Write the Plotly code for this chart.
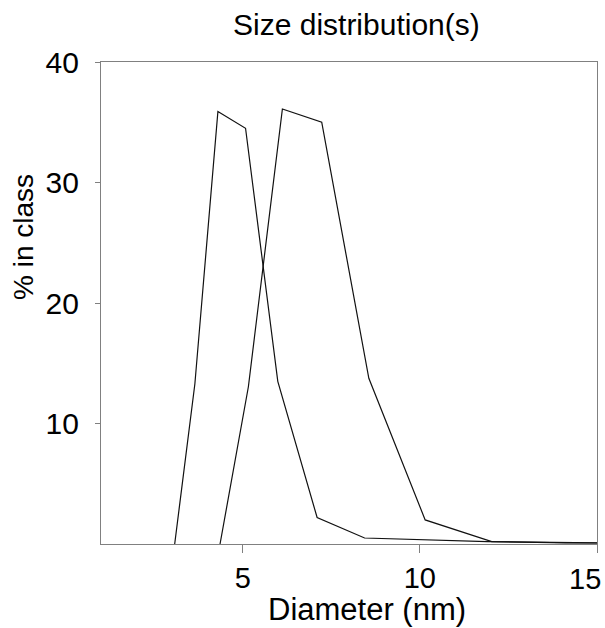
import plotly.graph_objects as go

# Series 1 (left distribution)
diam_1 = [3.08, 3.65, 4.30, 5.08, 5.99, 7.10, 8.44, 10.0, 11.9, 14.1, 16.7]
pct_1 = [0.0, 13.3, 35.9, 34.5, 13.5, 2.2, 0.5, 0.35, 0.2, 0.1, 0.05]

# Series 2 (right distribution)
diam_2 = [4.36, 5.16, 6.12, 7.23, 8.56, 10.15, 12.03, 14.26, 16.9]
pct_2 = [0.0, 13.05, 36.1, 35.0, 13.75, 2.0, 0.2, 0.08, 0.03]

x_ticks = [5, 10, 15]
x_ticktext = ["5", "10", "15"]
y_ticks = [10, 20, 30, 40]

FONT = "Arial, 'Liberation Sans', sans-serif"

fig = go.Figure()
for xs, ys in [(diam_1, pct_1), (diam_2, pct_2)]:
    fig.add_trace(go.Scatter(x=xs, y=ys, mode="lines",
                             line=dict(color="#111111", width=1.2),
                             showlegend=False, hoverinfo="skip"))

axis_common = dict(showgrid=False, zeroline=False, showline=True, mirror=True,
                   linecolor="#808080", linewidth=1.2, ticks="outside",
                   tickcolor="#808080", tickwidth=1.2,
                   ticklabeloverflow="allow", automargin=False)

# last x tick label is drawn as an annotation so it stays inside the page
shown_text = x_ticktext[:-1] + [""]
fig.update_xaxes(range=[1, 15], tickvals=x_ticks, ticktext=shown_text,
                 ticklen=8, ticklabelstandoff=0,
                 tickfont=dict(family=FONT, size=29, color="black"), **axis_common)
fig.update_yaxes(range=[0, 40], tickvals=y_ticks, ticklen=5,
                 ticklabelstandoff=10,
                 tickfont=dict(family=FONT, size=30, color="black"), **axis_common)

fig.update_layout(
    width=605, height=628,
    margin=dict(l=101, r=8, t=62, b=84),
    plot_bgcolor="white", paper_bgcolor="white",
    annotations=[
        dict(text=x_ticktext[-1], x=x_ticks[-1], y=0, xref="x", yref="paper",
             xanchor="right", yanchor="middle", xshift=6, yshift=-35,
             showarrow=False, font=dict(family=FONT, size=29, color="black")),
        dict(text="Size distribution(s)", x=0.515, y=1, xref="paper", yref="paper",
             xanchor="center", yanchor="middle", yshift=38, showarrow=False,
             font=dict(family=FONT, size=30, color="black")),
        dict(text="Diameter (nm)", x=0.537, y=0, xref="paper", yref="paper",
             xanchor="center", yanchor="middle", yshift=-65, showarrow=False,
             font=dict(family=FONT, size=31, color="black")),
        dict(text="% in class", x=0, y=0.637, xref="paper", yref="paper",
             xanchor="center", yanchor="middle", xshift=-77, textangle=-90,
             showarrow=False, font=dict(family=FONT, size=28, color="black")),
    ],
)

fig.write_html("out.html")
